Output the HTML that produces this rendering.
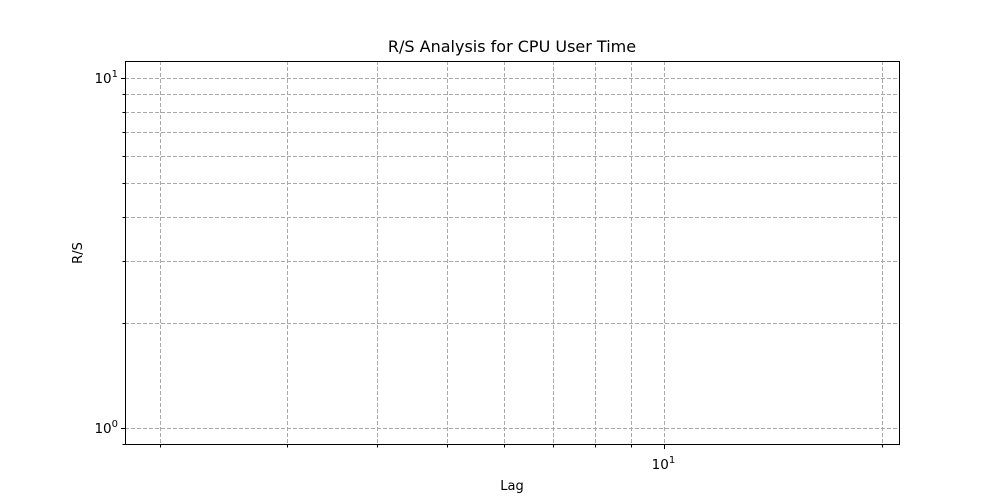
<!DOCTYPE html>
<html><head><meta charset="utf-8"><style>
html,body{margin:0;padding:0;background:#fff;}
svg{display:block;font-family:"DejaVu Sans","Liberation Sans",sans-serif;}
</style></head><body>
<svg id="chart" width="1000" height="500" viewBox="0 0 1000 500">
<rect x="0" y="0" width="1000" height="500" fill="#fff"/>
<text x="512" y="52" font-size="16" text-anchor="middle">R/S Analysis for CPU User Time</text>
<text x="512" y="490" font-size="13" text-anchor="middle">Lag</text>
<text x="82" y="253" font-size="13" text-anchor="middle" transform="rotate(-90 82 253)">R/S</text>
<g id="grid"></g>
<g id="ticks"></g>
<rect x="125.5" y="61.5" width="774" height="383" fill="none" stroke="#000" stroke-width="1"/>
</svg>
<script>
const xMinorTicks = [2,3,4,5,6,7,8,9,20];
const xMajorTicks = [10];
const xMajorLabels = ["10", "1"];
const yMinorTicks = [0.9,2,3,4,5,6,7,8,9];
const yMajorTicks = [1,10];
const yMajorExp = ["0","1"];
const xDomain = [1.789, 21.2];
const yDomain = [Math.pow(10,-0.0486), Math.pow(10,1.0486)];

const L=125,R=900,T=61,B=445;
function xs(v){const a=Math.log10(xDomain[0]),b=Math.log10(xDomain[1]);return L+(Math.log10(v)-a)/(b-a)*(R-L);}
function ys(v){const a=Math.log10(yDomain[0]),b=Math.log10(yDomain[1]);return B-(Math.log10(v)-a)/(b-a)*(B-T);}
function px(v){return Math.round(v)+0.5;}
const NS="http://www.w3.org/2000/svg";
const grid=document.getElementById('grid'), ticks=document.getElementById('ticks');
function mk(tag,attrs,parent){const e=document.createElementNS(NS,tag);for(const k in attrs)e.setAttribute(k,attrs[k]);parent.appendChild(e);return e;}
const dash={stroke:"#aaaaaa","stroke-width":"1","stroke-dasharray":"4,2",fill:"none"};
[...xMinorTicks,...xMajorTicks].forEach(v=>{
  const x=px(xs(v));
  const g=mk('line',Object.assign({x1:x,x2:x,y1:T,y2:B},dash),grid);
  
  
  const major=xMajorTicks.includes(v);
  const t=mk('line',{x1:x,x2:x,y1:B,y2:B+(major?4:2.5),stroke:"#000","stroke-width":"1"},ticks);
  
  
});
[...yMinorTicks,...yMajorTicks].forEach(v=>{
  const y=px(ys(v));
  const g=mk('line',Object.assign({x1:L,x2:R,y1:y,y2:y},dash),grid);
  
  
  const major=yMajorTicks.includes(v);
  const t=mk('line',{x1:L,x2:L-(major?4:2.5),y1:y,y2:y,stroke:"#000","stroke-width":"1"},ticks);
  
  
});
xMajorTicks.forEach((v,i)=>{
  const x=xs(v);
  const t=mk('text',{x:x-1,y:B+24,"font-size":"13.5","text-anchor":"middle"},ticks);
  
  
  t.textContent=xMajorLabels[0];
  const s=mk('tspan',{dy:"-6","font-size":"10"},t);
  s.textContent=xMajorLabels[1];
});
yMajorTicks.forEach((v,i)=>{
  const y=ys(v);
  const t=mk('text',{x:L-7,y:y+5,"font-size":"13.5","text-anchor":"end"},ticks);
  
  
  t.textContent="10";
  const s=mk('tspan',{dy:"-6","font-size":"10"},t);
  s.textContent=yMajorExp[i];
});
</script>
</body></html>
